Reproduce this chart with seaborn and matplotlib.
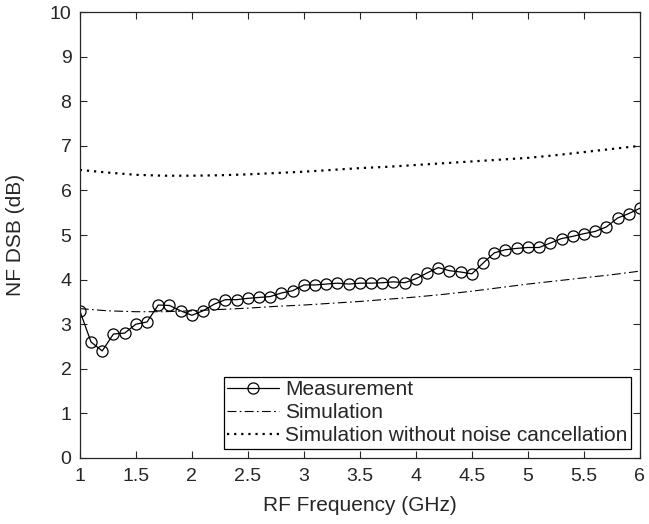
import matplotlib
matplotlib.use("Agg")
import matplotlib.pyplot as plt
import pandas as pd
import seaborn as sns

# Measured NF (0.1 GHz steps, 1 to 6 GHz)
meas_freq = [1.0, 1.1, 1.2, 1.3, 1.4, 1.5, 1.6, 1.7, 1.8, 1.9,
             2.0, 2.1, 2.2, 2.3, 2.4, 2.5, 2.6, 2.7, 2.8, 2.9,
             3.0, 3.1, 3.2, 3.3, 3.4, 3.5, 3.6, 3.7, 3.8, 3.9,
             4.0, 4.1, 4.2, 4.3, 4.4, 4.5, 4.6, 4.7, 4.8, 4.9,
             5.0, 5.1, 5.2, 5.3, 5.4, 5.5, 5.6, 5.7, 5.8, 5.9, 6.0]
meas_nf = [3.30, 2.60, 2.40, 2.78, 2.80, 3.00, 3.05, 3.43, 3.42, 3.30,
           3.20, 3.30, 3.45, 3.55, 3.55, 3.58, 3.60, 3.62, 3.70, 3.75,
           3.88, 3.88, 3.90, 3.92, 3.90, 3.92, 3.92, 3.93, 3.95, 3.93,
           4.02, 4.15, 4.27, 4.20, 4.17, 4.13, 4.37, 4.60, 4.67, 4.70,
           4.72, 4.72, 4.82, 4.92, 4.97, 5.03, 5.08, 5.18, 5.38, 5.48, 5.60]

# Simulated curves
sim_freq = [1.0, 1.25, 1.5, 1.75, 2.0, 2.25, 2.5, 2.75, 3.0, 3.25, 3.5,
            3.75, 4.0, 4.25, 4.5, 4.75, 5.0, 5.25, 5.5, 5.75, 6.0]
sim_nf = [3.35, 3.30, 3.28, 3.28, 3.30, 3.33, 3.36, 3.40, 3.43, 3.47, 3.51,
          3.56, 3.61, 3.67, 3.74, 3.82, 3.90, 3.97, 4.04, 4.11, 4.19]
sim_nc_nf = [6.46, 6.40, 6.35, 6.33, 6.33, 6.34, 6.36, 6.39, 6.42, 6.46, 6.50,
             6.53, 6.57, 6.61, 6.65, 6.69, 6.73, 6.79, 6.86, 6.93, 7.00]

meas = pd.DataFrame({"freq": meas_freq, "nf": meas_nf})
sim = pd.DataFrame({"freq": sim_freq, "nf": sim_nf, "nf_nc": sim_nc_nf})

sns.set_style("ticks")
plt.rcParams["font.family"] = ["Liberation Sans", "DejaVu Sans"]
plt.rcParams["xtick.direction"] = "in"
plt.rcParams["ytick.direction"] = "in"

fig = plt.figure(figsize=(6.49, 5.24), dpi=100)
ax = fig.add_axes([0.123, 0.126, 0.863, 0.851])

sns.lineplot(data=meas, x="freq", y="nf", ax=ax, color="black", lw=0.9,
             marker="o", markersize=8, markerfacecolor="none",
             markeredgecolor="black", markeredgewidth=0.9,
             label="Measurement")
sns.lineplot(data=sim, x="freq", y="nf", ax=ax, color="black", lw=0.8,
             linestyle=(0, (8, 3, 1.5, 3)), label="Simulation")
sns.lineplot(data=sim, x="freq", y="nf_nc", ax=ax, color="black", lw=1.6,
             linestyle=(0, (1, 2.2)),
             label="Simulation without noise cancellation")

ax.set_xlim(1, 6)
ax.set_ylim(0, 10)
ax.set_xticks([1, 1.5, 2, 2.5, 3, 3.5, 4, 4.5, 5, 5.5, 6])
ax.set_xticklabels(["1", "1.5", "2", "2.5", "3", "3.5", "4", "4.5", "5", "5.5", "6"])
ax.set_yticks(range(0, 11))
ax.tick_params(top=True, right=True, labelsize=14, length=5, width=0.8)
ax.tick_params(axis="x", pad=7)
ax.tick_params(axis="y", pad=6)
for s in ax.spines.values():
    s.set_linewidth(0.9)
    s.set_visible(True)

ax.set_xlabel("RF Frequency (GHz)", fontsize=15, labelpad=8)
ax.set_ylabel("NF DSB (dB)", fontsize=15, labelpad=18)

leg = ax.legend(loc="lower right", fontsize=15, frameon=True, fancybox=False,
                edgecolor="black", framealpha=1, borderpad=0.15,
                labelspacing=0.2, handlelength=2.5, handletextpad=0.3,
                borderaxespad=0.45)
leg.get_frame().set_linewidth(0.9)

fig.savefig("out.png", dpi=100)
